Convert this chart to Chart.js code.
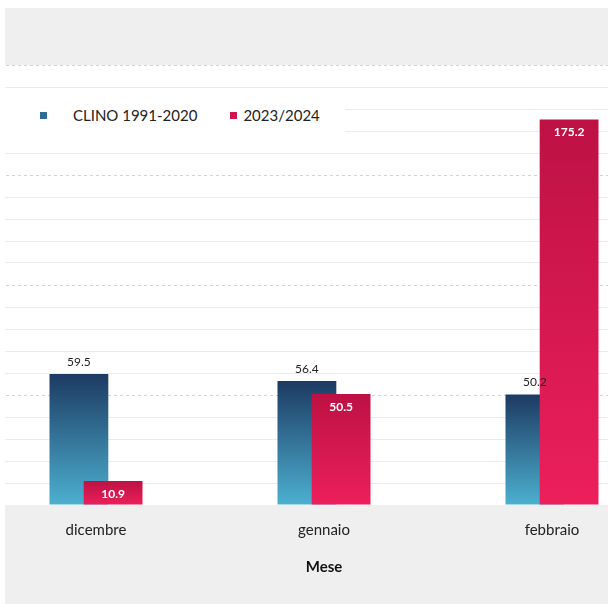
<!DOCTYPE html>
<html>
<head>
<meta charset="utf-8">
<script src="https://cdn.jsdelivr.net/npm/chart.js@4.4.1/dist/chart.umd.min.js"></script>
<style>
  html, body { margin: 0; padding: 0; background: #fff; }
  #frame { position: absolute; left: 5px; top: 8px; width: 603px; height: 596px; background: #efefef; overflow: hidden; }
  #chart { position: absolute; left: -23px; top: 0; }
  #legend { position: absolute; left: 0; top: 90px; width: 340px; height: 34px; background: #fff; white-space: nowrap;
            font: 15px Lato, "Open Sans", sans-serif; color: #222; display: flex; align-items: center; padding-left: 35px; box-sizing: border-box; }
  #legend .sw { display: inline-block; width: 7px; height: 7px; flex: none; }
  #legend .item { display: flex; align-items: center; margin-right: 33px; flex: none; }
  #legend .item:nth-child(1) .sw { margin-right: 26px; }
  #legend .item:nth-child(2) .sw { margin-right: 6px; }
</style>
</head>
<body>
<div id="frame">
  <canvas id="chart" width="684" height="590"></canvas>
  <div id="legend"></div>
</div>
<script>
const months = ["dicembre", "gennaio", "febbraio"];
const clino = [59.5, 56.4, 50.2];
const season = [10.9, 50.5, 175.2];
const seriesNames = ["CLINO 1991-2020", "2023/2024"];
const axisTitle = "Mese";

const BLUE = { top: "#1d3a62", bottom: "#4cb0d0", flat: "#2f6d8f" };
const PINK = { top: "#bd1144", bottom: "#ec1f5b", flat: "#d0144e" };
const FONT = "Lato, 'Open Sans', sans-serif";

// gradient per bar: dark on top, light at the base
function barFill(c) {
  return function (ctx) {
    const chart = ctx.chart;
    const y = chart.scales.y;
    if (ctx.type !== "data" || !chart.chartArea || !y) return c.flat;
    const y0 = y.getPixelForValue(0);
    const y1 = y.getPixelForValue(ctx.parsed.y);
    if (!isFinite(y0) || !isFinite(y1) || y0 === y1) return c.flat;
    const g = chart.ctx.createLinearGradient(0, y1, 0, y0);
    g.addColorStop(0, c.top);
    g.addColorStop(1, c.bottom);
    return g;
  };
}

const background = {
  id: "background",
  beforeDraw(chart) {
    const { ctx, chartArea } = chart;
    ctx.save();
    ctx.fillStyle = "#ffffff";
    ctx.fillRect(chartArea.left, chartArea.top, chartArea.right - chartArea.left, chartArea.bottom - chartArea.top);
    ctx.restore();
  }
};

// second series overlaps the first, so draw it last; then the value labels
const overlay = {
  id: "overlay",
  beforeDatasetDraw(chart, args) {
    if (args.index === 1) return false;
  },
  afterDatasetsDraw(chart) {
    const ctx = chart.ctx;
    chart.getDatasetMeta(1).controller.draw();

    ctx.save();
    ctx.textAlign = "center";
    ctx.textBaseline = "middle";
    ctx.font = "12px " + FONT;
    chart.getDatasetMeta(0).data.forEach((bar, i) => {
      ctx.fillStyle = "#222";
      ctx.fillText(clino[i].toFixed(1), bar.x, bar.y - 12);
    });
    ctx.font = "bold 12px " + FONT;
    chart.getDatasetMeta(1).data.forEach((bar, i) => {
      ctx.fillStyle = "#ffffff";
      ctx.fillText(season[i].toFixed(1), bar.x, bar.y + 13);
    });
    ctx.restore();
  }
};

const chart = new Chart(document.getElementById("chart"), {
  type: "bar",
  data: {
    labels: months,
    datasets: [
      { label: seriesNames[0], data: clino, backgroundColor: barFill(BLUE), borderWidth: 0 },
      { label: seriesNames[1], data: season, backgroundColor: barFill(PINK), borderWidth: 0 }
    ]
  },
  options: {
    responsive: false,
    animation: false,
    categoryPercentage: 0.3,
    barPercentage: 1.72,
    layout: { padding: { top: 57, left: 0, right: 0, bottom: 0 } },
    plugins: {
      legend: { display: false },
      tooltip: { enabled: false }
    },
    scales: {
      x: {
        grid: { display: false, drawTicks: false },
        border: { display: false },
        ticks: { color: "#222", padding: 16, font: { family: FONT, size: 15 } },
        title: { display: true, text: axisTitle, color: "#111", font: { family: FONT, size: 15, weight: "bold" }, padding: { top: 3, bottom: 22 } }
      },
      y: {
        min: 0,
        max: 200,
        ticks: { display: false, stepSize: 10 },
        grid: {
          drawTicks: false,
          color: (c) => {
            if (!c.tick || c.tick.value === 0) return "rgba(0,0,0,0)";
            return c.tick.value % 50 === 0 ? "#d2d2d2" : "#ebebeb";
          },
          lineWidth: 1
        },
        border: {
          display: false,
          dash: (c) => (c.tick && c.tick.value % 50 === 0 ? [3, 3] : [])
        }
      }
    }
  },
  plugins: [background, overlay]
});

// legend built from the chart's datasets
const legendEl = document.getElementById("legend");
const legendColors = [BLUE.flat, PINK.flat];
chart.data.datasets.forEach((ds, i) => {
  const item = document.createElement("span");
  item.className = "item";
  const sw = document.createElement("span");
  sw.className = "sw";
  sw.style.background = legendColors[i];
  const txt = document.createElement("span");
  txt.textContent = ds.label;
  item.appendChild(sw);
  item.appendChild(txt);
  legendEl.appendChild(item);
});
</script>
</body>
</html>
